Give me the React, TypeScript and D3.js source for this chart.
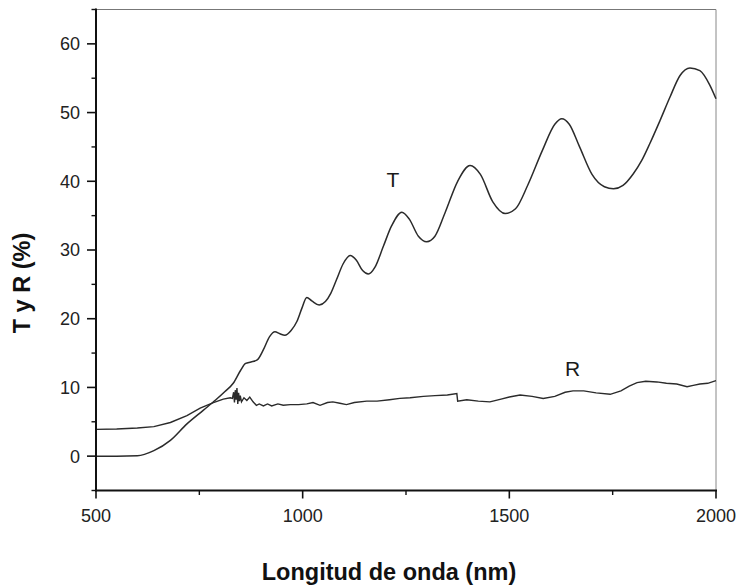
import React from "react";
import * as d3 from "d3";

const xTicks = [500, 1000, 1500, 2000];
const xMinorTicks = [750, 1250, 1750];
const yTicks = [0, 10, 20, 30, 40, 50, 60];
const yMinorTicks = [-5, 5, 15, 25, 35, 45, 55, 65];

const tWavelength = [500, 550, 600, 640, 680, 720, 760, 790, 812, 832, 850, 862, 875, 890, 905, 920, 933, 945, 957, 972, 986, 998, 1010, 1022, 1040, 1055, 1068, 1082, 1098, 1115, 1130, 1145, 1159, 1175, 1195, 1215, 1240, 1258, 1280, 1300, 1320, 1345, 1375, 1405, 1430, 1460, 1490, 1515, 1545, 1580, 1610, 1627, 1645, 1670, 1700, 1730, 1752, 1775, 1800, 1820, 1840, 1865, 1889, 1913, 1937, 1961, 1985, 2000];
const tValues = [0, 0, 0.05, 0.8, 2.3, 4.7, 6.7, 8.2, 9.4, 10.6, 12.5, 13.5, 13.7, 14.0, 15.5, 17.4, 18.1, 17.8, 17.6, 18.3, 19.6, 21.5, 23.1, 22.6, 22.0, 22.5, 23.7, 25.7, 28.0, 29.2, 28.5, 27.0, 26.5, 27.5, 30.5, 33.5, 35.5, 34.5, 32.0, 31.2, 32.0, 35.5, 40.0, 42.3, 41.0, 37.0, 35.3, 36.0, 39.5, 44.5, 48.3, 49.1, 48.3, 45.0, 41.0, 39.2, 38.9, 39.4, 41.1, 43.0, 45.5, 48.9, 52.3, 55.4, 56.5, 56.1, 54.0, 52.0];

const rWavelength = [500, 550, 600, 640, 680, 720, 752, 784, 808, 825, 830, 833, 835, 837, 839, 841, 843, 845, 847, 849, 852, 858, 865, 872, 880, 888, 895, 905, 915, 925, 940, 953, 970, 990, 1010, 1025, 1042, 1060, 1073, 1090, 1106, 1125, 1155, 1180, 1210, 1235, 1260, 1292, 1320, 1350, 1373, 1375, 1397, 1425, 1453, 1480, 1500, 1526, 1555, 1582, 1610, 1635, 1654, 1680, 1710, 1744, 1770, 1790, 1809, 1830, 1857, 1880, 1905, 1930, 1945, 1961, 1980, 2000];
const rValues = [3.9, 3.95, 4.1, 4.3, 4.9, 5.9, 7.0, 7.8, 8.3, 8.5, 8.4, 9.3, 7.8, 9.6, 8.2, 9.9, 7.6, 9.2, 8.0, 8.8, 7.9, 8.5, 8.1, 8.6, 7.9, 7.4, 7.6, 7.3, 7.6, 7.3, 7.6, 7.4, 7.5, 7.5, 7.6, 7.8, 7.4, 7.8, 7.9, 7.7, 7.5, 7.8, 8.0, 8.0, 8.2, 8.4, 8.5, 8.7, 8.8, 8.9, 9.1, 8.0, 8.2, 8.0, 7.9, 8.3, 8.6, 8.9, 8.7, 8.4, 8.7, 9.3, 9.5, 9.5, 9.2, 9.0, 9.5, 10.2, 10.7, 10.9, 10.8, 10.6, 10.5, 10.1, 10.3, 10.5, 10.6, 11.0];

const xLabel = "Longitud de onda (nm)";
const yLabel = "T y R (%)";

export default function App() {
  const W = 739, H = 587;
  const left = 96, right = 716, top = 9.5, bottom = 490.5;
  const x = d3.scaleLinear().domain([500, 2000]).range([left, right]);
  const y = d3.scaleLinear().domain([-5, 65]).range([bottom, top]);

  const tLine = d3.line<number>()
    .x((_, i) => x(tWavelength[i]))
    .y((v) => y(v))
    .curve(d3.curveMonotoneX);
  const rLine = d3.line<number>()
    .x((_, i) => x(rWavelength[i]))
    .y((v) => y(v))
    .curve(d3.curveLinear);

  const font = "Arial, 'Liberation Sans', sans-serif";

  return (
    <svg width={W} height={H} style={{ position: "absolute", left: 0, top: 0, background: "#fff" }}>
      <rect x={0} y={0} width={W} height={H} fill="#fff" />
      <line x1={left} x2={right} y1={top} y2={top} stroke="#777" strokeWidth={1} />
      <line x1={right} x2={right} y1={top} y2={bottom} stroke="#888" strokeWidth={1} />

      <path d={rLine(rValues) || ""} fill="none" stroke="#2b2b2b" strokeWidth={1.4} />
      <path d={tLine(tValues) || ""} fill="none" stroke="#2b2b2b" strokeWidth={1.5} />

      <line x1={left} x2={left} y1={top - 1} y2={bottom + 1} stroke="#111" strokeWidth={2} />
      <line x1={left - 1} x2={right + 1} y1={bottom} y2={bottom} stroke="#111" strokeWidth={2} />

      {xTicks.map((t) => (
        <g key={"xt" + t}>
          <line x1={x(t)} x2={x(t)} y1={bottom} y2={bottom + 8} stroke="#111" strokeWidth={1.6} />
          <text x={x(t)} y={522} textAnchor="middle" fontFamily={font} fontSize={18} fill="#222">{t}</text>
        </g>
      ))}
      {xMinorTicks.map((t) => (
        <line key={"xm" + t} x1={x(t)} x2={x(t)} y1={bottom} y2={bottom + 4.5} stroke="#111" strokeWidth={1.4} />
      ))}
      {yTicks.map((t) => (
        <g key={"yt" + t}>
          <line x1={left - 9} x2={left} y1={y(t)} y2={y(t)} stroke="#111" strokeWidth={1.6} />
          <text x={80} y={y(t)} dy="0.36em" textAnchor="end" fontFamily={font} fontSize={18} fill="#222">{t}</text>
        </g>
      ))}
      {yMinorTicks.map((t) => (
        <line key={"ym" + t} x1={left - 4.5} x2={left} y1={y(t)} y2={y(t)} stroke="#111" strokeWidth={1.4} />
      ))}

      <text x={393} y={187} textAnchor="middle" fontFamily={font} fontSize={21} fill="#1a1a1a">T</text>
      <text x={572.5} y={376} textAnchor="middle" fontFamily={font} fontSize={21} fill="#1a1a1a">R</text>

      <text x={389} y={580} textAnchor="middle" fontFamily={font} fontSize={23.5} fontWeight="bold" fill="#111">{xLabel}</text>
      <text transform={`translate(29.5,283) rotate(-90)`} textAnchor="middle" fontFamily={font} fontSize={23.5} fontWeight="bold" fill="#111">{yLabel}</text>
    </svg>
  );
}
